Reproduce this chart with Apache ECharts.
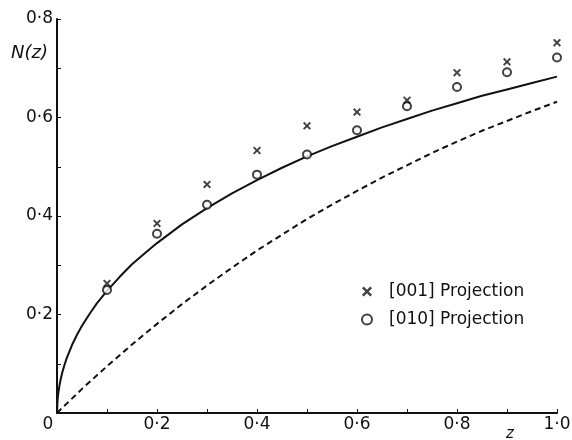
<!DOCTYPE html>
<html>
<head>
<meta charset="utf-8">
<script src="https://cdn.jsdelivr.net/npm/echarts@6/dist/echarts.min.js"></script>
<style>
html,body{margin:0;padding:0;background:#fff;}
#chart{width:572px;height:440px;}
</style>
</head>
<body>
<div id="chart"></div>
<script>
// Theoretical curves
const curveZ    = [0, 0.001, 0.0025, 0.005, 0.0075, 0.01, 0.015, 0.02, 0.03, 0.04, 0.05, 0.065, 0.08, 0.1, 0.125, 0.15, 0.175, 0.2, 0.25, 0.3, 0.35, 0.4, 0.45, 0.5, 0.55, 0.6, 0.65, 0.7, 0.75, 0.8, 0.85, 0.9, 0.95, 1.0];
const centricN  = [0, 0.025, 0.040, 0.056, 0.069, 0.080, 0.098, 0.113, 0.138, 0.159, 0.177, 0.201, 0.223, 0.248, 0.276, 0.302, 0.324, 0.345, 0.383, 0.416, 0.446, 0.473, 0.498, 0.521, 0.542, 0.561, 0.580, 0.597, 0.614, 0.629, 0.644, 0.657, 0.670, 0.683];
const dashZ     = [0, 0.05, 0.1, 0.15, 0.2, 0.25, 0.3, 0.35, 0.4, 0.45, 0.5, 0.55, 0.6, 0.65, 0.7, 0.75, 0.8, 0.85, 0.9, 0.95, 1.0];
const acentricN = [0, 0.049, 0.095, 0.139, 0.181, 0.221, 0.259, 0.295, 0.330, 0.362, 0.394, 0.423, 0.451, 0.478, 0.503, 0.528, 0.551, 0.573, 0.593, 0.613, 0.632];
// Observed points
const obsZ      = [0.1, 0.2, 0.3, 0.4, 0.5, 0.6, 0.7, 0.8, 0.9, 1.0];
const proj001   = [0.263, 0.385, 0.464, 0.533, 0.583, 0.611, 0.635, 0.691, 0.713, 0.752];
const proj010   = [0.250, 0.364, 0.423, 0.484, 0.525, 0.574, 0.623, 0.662, 0.692, 0.722];
const seriesNames = ['[001] Projection', '[010] Projection'];
// Axis ticks
const xTicks = [0, 0.2, 0.4, 0.6, 0.8, 1.0];
const yTicks = [0.2, 0.4, 0.6, 0.8];

function fmt(v) {
  return (Math.round(v * 10) / 10).toFixed(1).replace('.', '·');
}
function zip(a, b) { return a.map((x, i) => [x, b[i]]); }

const FONT = 'DejaVu Sans';
const BLACK = '#111';
const crossPath = 'path://M0,1.7L1.7,0L5,3.3L8.3,0L10,1.7L6.7,5L10,8.3L8.3,10L5,6.7L1.7,10L0,8.3L3.3,5Z';

const chart = echarts.init(document.getElementById('chart'), null, {renderer: 'canvas'});
chart.setOption({
  animation: false,
  backgroundColor: '#fff',
  grid: {left: 57, right: 15, top: 19, bottom: 27, containLabel: false, outerBoundsMode: 'none'},
  xAxis: {
    type: 'value', min: 0, max: 1, interval: 0.1,
    name: 'z', nameLocation: 'end', nameGap: -47,
    nameTextStyle: {fontFamily: FONT, fontStyle: 'italic', fontSize: 15, color: BLACK, align: 'center', verticalAlign: 'top', padding: [14, 0, 0, 0]},
    axisLine: {show: true, lineStyle: {color: BLACK, width: 2}},
    axisTick: {show: true, inside: true, length: 4, lineStyle: {color: BLACK, width: 1}},
    splitLine: {show: false},
    axisLabel: {
      margin: 3, fontFamily: FONT, fontSize: 17, color: BLACK,
      formatter: v => {
        const hit = xTicks.find(t => Math.abs(t - v) < 1e-6);
        if (hit === undefined) return '';
        if (hit === 0) return '{o|0}';
        return fmt(hit);
      },
      rich: {o: {fontFamily: FONT, fontSize: 17, color: BLACK, padding: [0, 18, 0, 0]}}
    }
  },
  yAxis: {
    type: 'value', min: 0, max: 0.8, interval: 0.1,
    name: 'N(z)', nameLocation: 'end', nameGap: -25,
    nameTextStyle: {fontFamily: FONT, fontStyle: 'italic', fontSize: 18, color: BLACK, align: 'right', verticalAlign: 'top', padding: [0, 9, 0, 0]},
    axisLine: {show: true, lineStyle: {color: BLACK, width: 2}},
    axisTick: {show: true, inside: true, length: 4, lineStyle: {color: BLACK, width: 1}},
    splitLine: {show: false},
    axisLabel: {
      margin: 4, fontFamily: FONT, fontSize: 17, color: BLACK,
      formatter: v => {
        const hit = yTicks.find(t => Math.abs(t - v) < 1e-6);
        return hit === undefined ? '' : fmt(hit);
      }
    }
  },
  legend: {
    orient: 'vertical', left: 356, top: 278, itemGap: 11,
    itemWidth: 10, itemHeight: 10,
    data: seriesNames,
    textStyle: {fontFamily: FONT, fontSize: 17, color: BLACK, padding: [0, 0, 0, 12]}
  },
  series: [
    {
      type: 'line', name: 'centric', data: zip(curveZ, centricN),
      smooth: false, showSymbol: false, symbol: 'none',
      lineStyle: {color: BLACK, width: 2, join: 'round'}, z: 2
    },
    {
      type: 'line', name: 'acentric', data: zip(dashZ, acentricN),
      smooth: false, showSymbol: false, symbol: 'none',
      lineStyle: {color: BLACK, width: 2, type: [6, 4]}, z: 2
    },
    {
      type: 'scatter', name: seriesNames[0], data: zip(obsZ, proj001),
      symbol: crossPath, symbolSize: 8,
      itemStyle: {color: BLACK}, z: 4
    },
    {
      type: 'scatter', name: seriesNames[1], data: zip(obsZ, proj010),
      symbol: 'circle', symbolSize: 8,
      itemStyle: {color: '#fff', borderColor: BLACK, borderWidth: 2}, z: 3
    }
  ]
});
</script>
</body>
</html>
